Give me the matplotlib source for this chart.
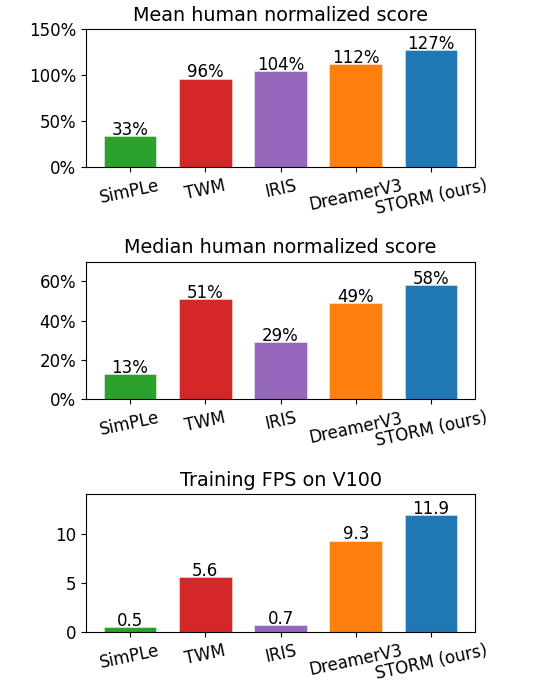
import numpy as np
import matplotlib.pyplot as plt
from matplotlib.ticker import PercentFormatter

# data
methods = ["SimPLe", "TWM", "IRIS", "DreamerV3", "STORM (ours)"]
colors = ["tab:green", "tab:red", "tab:purple", "tab:orange", "tab:blue"]
mean_score = [33, 96, 104, 112, 127]
median_score = [13, 51, 29, 49, 58]
train_fps = [0.5, 5.6, 0.7, 9.3, 11.9]

fig, axes = plt.subplots(3, 1, figsize=(5.41, 6.92), dpi=100)
fig.subplots_adjust(left=0.159, right=0.878, top=0.958, bottom=0.0867, hspace=0.689)

x = np.arange(len(methods))

# Mean
ax = axes[0]
bars = ax.bar(x, mean_score, width=0.7, color=colors, edgecolor="#ffffff80", linewidth=0.6)
ax.bar_label(bars, labels=[f"{v}%" for v in mean_score], fontsize=12, padding=-2)
ax.set_ylim(0, 150)
ax.set_yticks([0, 50, 100, 150])
ax.yaxis.set_major_formatter(PercentFormatter(decimals=0))
ax.set_title("Mean human normalized score", fontsize=13.8)

# Median
ax = axes[1]
bars = ax.bar(x, median_score, width=0.7, color=colors, edgecolor="#ffffff80", linewidth=0.6)
ax.bar_label(bars, labels=[f"{v}%" for v in median_score], fontsize=12, padding=-2)
ax.set_ylim(0, 70)
ax.set_yticks([0, 20, 40, 60])
ax.yaxis.set_major_formatter(PercentFormatter(decimals=0))
ax.set_title("Median human normalized score", fontsize=13.8)

# FPS
ax = axes[2]
bars = ax.bar(x, train_fps, width=0.7, color=colors, edgecolor="#ffffff80", linewidth=0.6)
ax.bar_label(bars, labels=[f"{v}" for v in train_fps], fontsize=12, padding=-2)
ax.set_ylim(0, 14)
ax.set_yticks([0, 5, 10])
ax.set_title("Training FPS on V100", fontsize=13.8)

for ax in axes:
    ax.set_xticks(x)
    ax.set_xticklabels(methods, rotation=12, fontsize=12)
    ax.tick_params(axis="y", labelsize=12)

fig.savefig("out.png", dpi=100)
